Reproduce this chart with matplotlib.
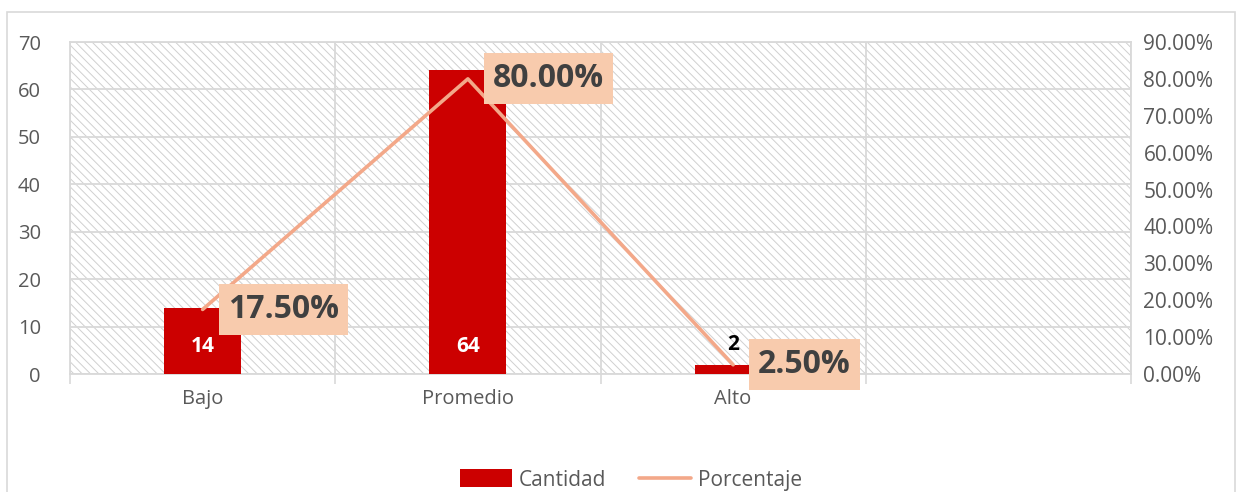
import matplotlib
matplotlib.use("Agg")
import matplotlib.pyplot as plt
from matplotlib.patches import Rectangle
import numpy as np

categories = ["Bajo", "Promedio", "Alto", ""]
cantidad = [14, 64, 2]
porcentaje = [17.50, 80.00, 2.50]
left_ticks = [0, 10, 20, 30, 40, 50, 60, 70]
right_ticks = [0, 10, 20, 30, 40, 50, 60, 70, 80, 90]

BAR = "#CC0000"
LINE = "#F3A889"
BOX = "#F8CBAD"
GRID = "#D9D9D9"
TXT = "#595959"

plt.rcParams['font.family'] = ['Open Sans', 'DejaVu Sans']
plt.rcParams['hatch.color'] = '#D0D0D0'
plt.rcParams['hatch.linewidth'] = 0.7

fig = plt.figure(figsize=(12.44, 4.92), dpi=100)
ax = fig.add_axes([70/1244, 118/492, (1131-70)/1244, (374-42)/492])

# outer frame
fig.patches.append(Rectangle((7/1244, -0.1), (1235-7)/1244, (492-12)/492 + 0.1,
                             transform=fig.transFigure, fill=False,
                             edgecolor=GRID, linewidth=1.2, clip_on=False))

# hatched background
ax.patch.set_facecolor('white')
ax.add_patch(Rectangle((0, 0), 1, 1, transform=ax.transAxes, facecolor='white',
                       edgecolor='#D0D0D0', hatch='\\\\\\\\', linewidth=0, zorder=0))

x = np.arange(len(cantidad))
ax.bar(x, cantidad, width=0.29, color=BAR, zorder=3, label="Cantidad")

ax.set_xlim(-0.5, len(categories) - 0.5)
ax.set_ylim(0, 70)
ax.set_yticks(left_ticks)
ax.set_xticks(np.arange(len(categories)))
ax.set_xticklabels(categories)
ax.set_xticks(np.arange(len(categories) + 1) - 0.5, minor=True)
ax.tick_params(axis='x', which='major', length=0, pad=11, labelsize=14.5, labelcolor=TXT)
ax.tick_params(axis='x', which='minor', length=7, color=GRID, width=1.2)
ax.tick_params(axis='y', length=0, pad=21, labelsize=14.5, labelcolor=TXT)
ax.grid(axis='y', color=GRID, linewidth=1.3, zorder=1)
ax.grid(axis='x', which='minor', color=GRID, linewidth=1.3, zorder=1)
ax.set_axisbelow(True)
for s in ax.spines.values():
    s.set_color(GRID)
    s.set_linewidth(1.3)

# bar labels
for xi, v in zip(x, cantidad):
    if v >= 5:
        ax.annotate(str(v), (xi, 0), xytext=(0, 20), textcoords='offset points',
                    ha='center', va='center', color='white', fontsize=15,
                    fontweight='bold', zorder=6)
    else:
        ax.annotate(str(v), (xi, v), xytext=(0, 7), textcoords='offset points',
                    ha='center', va='bottom', color='black', fontsize=15,
                    fontweight='bold', zorder=6)

ax2 = ax.twinx()
ax2.plot(x, porcentaje, color=LINE, linewidth=2.6, zorder=4, label="Porcentaje",
         solid_capstyle='round')
ax2.set_ylim(0, 90)
ax2.set_yticks(right_ticks)
ax2.set_yticklabels([f"{t:.2f}%" for t in right_ticks])
ax2.tick_params(axis='y', length=0, pad=9, labelsize=15, labelcolor=TXT)
for s in ax2.spines.values():
    s.set_visible(False)

for xi, p in zip(x, porcentaje):
    ax2.annotate(f"{p:.2f}%", (xi, p), xytext=(18, 0), textcoords='offset points',
                 ha='left', va='center', fontsize=23, fontweight='bold',
                 color='#404040', zorder=7,
                 bbox=dict(boxstyle='square,pad=0.28', facecolor=BOX, edgecolor='none'))

h1, l1 = ax.get_legend_handles_labels()
h2, l2 = ax2.get_legend_handles_labels()
fig.legend(h1 + h2, l1 + l2, loc='center', bbox_to_anchor=(631/1244, 12/492), ncol=2,
           frameon=False, fontsize=15, labelcolor=TXT, handlelength=2.5,
           handleheight=0.95, columnspacing=1.6, handletextpad=0.3)

fig.savefig("out.png", dpi=100)
